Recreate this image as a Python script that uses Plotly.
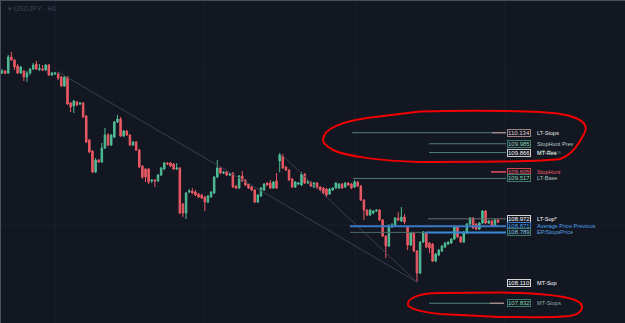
import plotly.graph_objects as go

# ---------------- data ----------------
opens = [110.940, 110.967, 110.940, 111.156, 111.115, 111.034, 110.940, 110.967, 110.886, 110.940,
         110.994, 111.061, 110.987, 110.994, 110.980, 111.048, 110.913, 110.926, 110.926, 110.886,
         110.764, 110.886, 110.535, 110.494, 110.548, 110.521, 110.535, 110.359, 110.035, 109.887,
         109.603, 109.765, 109.738, 109.927, 110.103, 109.968, 110.076, 110.278, 110.319, 110.089,
         110.157, 110.103, 109.968, 110.008, 109.900, 109.684, 109.644, 109.644, 109.482, 109.495,
         109.482, 109.563, 109.644, 109.725, 109.725, 109.711, 109.644, 109.657, 109.171, 109.050,
         109.333, 109.347, 109.333, 109.306, 109.293, 109.266, 109.198, 109.266, 109.320, 109.536,
         109.657, 109.590, 109.603, 109.563, 109.590, 109.414, 109.387, 109.549, 109.495, 109.441,
         109.401, 109.360, 109.198, 109.279, 109.360, 109.455, 109.455, 109.387, 109.482, 109.752,
         109.819, 109.671, 109.630, 109.509, 109.401, 109.441, 109.428, 109.576, 109.455, 109.468,
         109.401, 109.455, 109.401, 109.387, 109.374, 109.306, 109.360, 109.387, 109.387, 109.441,
         109.401, 109.455, 109.441, 109.401, 109.468, 109.414, 109.225, 109.090, 109.023, 109.050,
         109.077, 109.090, 108.955, 108.739, 108.604, 108.874, 108.874, 108.982, 108.942, 108.996,
         108.861, 108.618, 108.780, 108.537, 108.240, 108.658, 108.780, 108.645, 108.631, 108.402,
         108.483, 108.537, 108.591, 108.631, 108.645, 108.699, 108.861, 108.726, 108.658, 108.780,
         108.901, 108.982, 108.901, 108.834, 108.915, 109.077, 108.915, 108.942, 108.874, 108.955]
highs = [110.994, 110.980, 111.183, 111.223, 111.129, 111.061, 111.034, 110.980, 110.967, 111.007,
         111.075, 111.102, 111.061, 111.048, 111.061, 111.061, 110.953, 110.953, 110.953, 110.899,
         110.899, 110.899, 110.548, 110.575, 110.562, 110.548, 110.548, 110.373, 110.049, 109.900,
         109.792, 109.779, 109.995, 110.197, 110.130, 110.116, 110.292, 110.373, 110.346, 110.170,
         110.170, 110.116, 110.022, 110.022, 109.914, 109.698, 109.657, 109.657, 109.509, 109.509,
         109.576, 109.671, 109.738, 109.738, 109.738, 109.725, 109.725, 109.671, 109.185, 109.333,
         109.374, 109.387, 109.360, 109.320, 109.306, 109.279, 109.293, 109.347, 109.549, 109.765,
         109.671, 109.617, 109.617, 109.590, 109.603, 109.428, 109.563, 109.617, 109.509, 109.455,
         109.414, 109.374, 109.306, 109.401, 109.455, 109.468, 109.495, 109.482, 109.590, 109.860,
         109.846, 109.684, 109.644, 109.522, 109.482, 109.468, 109.603, 109.590, 109.495, 109.482,
         109.468, 109.468, 109.414, 109.401, 109.387, 109.387, 109.401, 109.468, 109.455, 109.455,
         109.468, 109.468, 109.455, 109.495, 109.482, 109.428, 109.239, 109.104, 109.104, 109.090,
         109.104, 109.104, 108.969, 108.753, 108.901, 108.915, 108.996, 109.063, 109.131, 109.036,
         108.874, 108.793, 108.793, 108.550, 108.672, 108.807, 108.793, 108.658, 108.645, 108.510,
         108.564, 108.618, 108.658, 108.672, 108.712, 108.874, 108.874, 108.739, 108.807, 108.915,
         108.996, 108.996, 108.915, 108.928, 109.090, 109.090, 108.955, 108.955, 108.969, 108.969]
lows = [110.926, 110.926, 110.926, 111.102, 110.980, 110.926, 110.926, 110.832, 110.818, 110.913,
        110.980, 110.980, 110.967, 110.967, 110.967, 110.899, 110.899, 110.913, 110.845, 110.751,
        110.751, 110.508, 110.413, 110.400, 110.494, 110.508, 110.332, 109.995, 109.860, 109.590,
        109.590, 109.725, 109.725, 109.914, 109.954, 109.954, 110.062, 110.265, 110.076, 110.076,
        110.089, 109.954, 109.954, 109.887, 109.657, 109.509, 109.468, 109.441, 109.455, 109.401,
        109.468, 109.549, 109.630, 109.698, 109.671, 109.630, 109.630, 109.036, 108.996, 108.969,
        109.320, 109.306, 109.279, 109.252, 109.239, 109.077, 109.185, 109.252, 109.306, 109.522,
        109.576, 109.576, 109.549, 109.549, 109.387, 109.374, 109.374, 109.468, 109.414, 109.374,
        109.347, 109.185, 109.185, 109.266, 109.347, 109.414, 109.374, 109.374, 109.374, 109.603,
        109.644, 109.617, 109.482, 109.387, 109.387, 109.428, 109.414, 109.441, 109.441, 109.401,
        109.387, 109.374, 109.347, 109.306, 109.266, 109.293, 109.347, 109.374, 109.374, 109.374,
        109.387, 109.414, 109.374, 109.387, 109.401, 109.212, 108.955, 109.009, 109.009, 109.036,
        109.063, 108.942, 108.726, 108.442, 108.591, 108.847, 108.861, 108.942, 108.928, 108.901,
        108.550, 108.604, 108.523, 108.118, 108.226, 108.645, 108.577, 108.510, 108.388, 108.388,
        108.469, 108.523, 108.577, 108.618, 108.631, 108.685, 108.712, 108.645, 108.645, 108.766,
        108.888, 108.834, 108.820, 108.820, 108.901, 108.901, 108.901, 108.861, 108.861, 108.915]
closes = [110.967, 110.933, 111.156, 111.115, 111.021, 110.940, 111.021, 110.886, 110.940, 110.994,
          111.048, 110.994, 111.000, 110.980, 111.048, 110.913, 110.940, 110.940, 110.872, 110.764,
          110.886, 110.521, 110.481, 110.562, 110.508, 110.535, 110.346, 110.008, 109.873, 109.603,
          109.765, 109.738, 109.927, 110.103, 109.968, 110.103, 110.278, 110.319, 110.089, 110.157,
          110.103, 109.968, 110.008, 109.900, 109.671, 109.536, 109.536, 109.468, 109.495, 109.482,
          109.563, 109.657, 109.725, 109.711, 109.684, 109.644, 109.657, 109.050, 109.050, 109.320,
          109.347, 109.320, 109.293, 109.266, 109.252, 109.198, 109.279, 109.333, 109.536, 109.657,
          109.590, 109.603, 109.563, 109.576, 109.401, 109.387, 109.549, 109.482, 109.428, 109.387,
          109.360, 109.198, 109.293, 109.387, 109.441, 109.428, 109.387, 109.468, 109.387, 109.833,
          109.657, 109.630, 109.495, 109.401, 109.468, 109.455, 109.576, 109.455, 109.468, 109.414,
          109.455, 109.387, 109.360, 109.320, 109.293, 109.374, 109.387, 109.455, 109.441, 109.387,
          109.455, 109.428, 109.387, 109.468, 109.414, 109.225, 109.090, 109.023, 109.090, 109.077,
          109.090, 108.955, 108.739, 108.604, 108.874, 108.888, 108.982, 108.955, 108.996, 108.928,
          108.618, 108.780, 108.537, 108.240, 108.658, 108.793, 108.591, 108.577, 108.402, 108.496,
          108.550, 108.604, 108.645, 108.658, 108.699, 108.861, 108.726, 108.658, 108.793, 108.901,
          108.982, 108.847, 108.834, 108.915, 109.077, 108.915, 108.942, 108.874, 108.955, 108.928]
bar_index = list(range(len(opens)))

level_values = [110.134, 109.985, 109.866, 109.605, 109.517, 108.972, 108.871, 108.789, 108.110, 107.832]
level_names = ["LT-Stops", "StopHunt Prev", "MT-Res", "StopHunt", "LT-Base", "LT-Sup*",
               "Average Price Previous", "EP/StopsPrice", "MT-Sup", "MT-Stops"]

# trendline anchors (bar index, price)
trend_a = [(18, 110.953), (133, 108.118)]
trend_b = [(89, 109.860), (133, 108.118)]

# ---------------- layout helpers ----------------
W, H = 625, 323
PX_PER_BAR = 3.12
X_LEFT = -2 / PX_PER_BAR
Y_TOP = 111.925
PX_PER_PRICE = 74.1
Y_BOTTOM = Y_TOP - H / PX_PER_PRICE


def xd(px):
    return X_LEFT + px / PX_PER_BAR


def pp(px, py):
    return f"{px / W:.5f},{1 - py / H:.5f}"


BG = "#131722"
TEAL = "#4e7f78"
UP = "#4fbc94"
DOWN = "#ea5a64"

fig = go.Figure()
fig.add_trace(go.Candlestick(
    x=bar_index, open=opens, high=highs, low=lows, close=closes,
    increasing=dict(line=dict(color=UP, width=1), fillcolor=UP),
    decreasing=dict(line=dict(color=DOWN, width=1), fillcolor=DOWN),
    whiskerwidth=0, hoverinfo="skip", showlegend=False,
))

shapes = []
# faint grid
for gx in [55, 205, 355, 505]:
    shapes.append(dict(type="line", xref="paper", yref="paper", x0=gx / W, x1=gx / W, y0=0, y1=1,
                       line=dict(color="#191e2b", width=1), layer="below"))
for gy in [72, 225]:
    shapes.append(dict(type="line", xref="paper", yref="paper", x0=0, x1=1, y0=1 - gy / H, y1=1 - gy / H,
                       line=dict(color="#191e2b", width=1), layer="below"))

# trend lines
for tl in (trend_a, trend_b):
    shapes.append(dict(type="line", xref="x", yref="y", x0=tl[0][0], y0=tl[0][1], x1=tl[1][0], y1=tl[1][1],
                       line=dict(color="#3a3f4c", width=1)))

# level line segments (pixel start/end, colour, width)
segments = [
    [(352, 492, TEAL, 1), (492, 506, "#a08a8a", 1.5)],
    [(429, 506, TEAL, 1)],
    [(429, 506, TEAL, 1)],
    [(491, 506, "#e0525a", 1.5)],
    [(353, 506, TEAL, 1)],
    [(428, 506, "#66706f", 1)],
    [(350, 506, "#3b78c4", 2)],
    [(350, 425, "#4c6d6a", 1), (425, 506, "#3a8ad6", 2)],
    [],
    [(429, 490, TEAL, 1), (490, 504, "#a08a8a", 1.5)],
]
for val, segs in zip(level_values, segments):
    for (a, b, col, w) in segs:
        shapes.append(dict(type="line", xref="x", yref="y", x0=xd(a), x1=xd(b), y0=val, y1=val,
                           line=dict(color=col, width=w)))

# red hand-drawn loops
loop1 = ("M " + pp(323, 140) + " C " + pp(323, 128) + " " + pp(345, 121) + " " + pp(367, 118) +
         " L " + pp(420, 111.5) + " C " + pp(480, 110) + " " + pp(540, 111) + " " + pp(560, 114) +
         " C " + pp(580, 117) + " " + pp(590, 124) + " " + pp(584, 134) +
         " C " + pp(578, 145) + " " + pp(572, 155) + " " + pp(560, 159) +
         " C " + pp(540, 162) + " " + pp(480, 162) + " " + pp(420, 162) +
         " C " + pp(380, 161) + " " + pp(345, 156) + " " + pp(333, 150) +
         " C " + pp(326, 146) + " " + pp(323, 143) + " " + pp(323, 140) + " Z")
loop2 = ("M " + pp(408, 303) + " C " + pp(410, 296) + " " + pp(425, 293) + " " + pp(440, 293) +
         " L " + pp(500, 292.5) + " C " + pp(540, 293) + " " + pp(565, 296) + " " + pp(575, 300) +
         " C " + pp(585, 304) + " " + pp(585, 313) + " " + pp(570, 316) +
         " C " + pp(550, 318) + " " + pp(520, 317) + " " + pp(500, 317) +
         " L " + pp(440, 314) + " C " + pp(420, 312) + " " + pp(406, 308) + " " + pp(408, 303) + " Z")
for p in (loop1, loop2):
    shapes.append(dict(type="path", xref="paper", yref="paper", path=p,
                       line=dict(color="#f00000", width=2)))

# frame edges
shapes.append(dict(type="line", xref="paper", yref="paper", x0=0, x1=1, y0=1, y1=1,
                   line=dict(color="#4a4e5a", width=2)))
shapes.append(dict(type="line", xref="paper", yref="paper", x0=0, x1=0, y0=0, y1=1,
                   line=dict(color="#4a4e5a", width=2)))

# label styles: (box border, value colour, name colour)
label_styles = [
    ("#a08585", "#e8d4d4", "#e4e4e4"),
    ("#3f7a6d", "#8fd6b4", "#b8cfc8"),
    ("#c8c8c8", "#f4f4f4", "#ffffff"),
    ("#d04a52", "#f06068", "#f06068"),
    ("#3f7a6d", "#8fd6b4", "#a8c4bc"),
    ("#d8d8d8", "#ffffff", "#ffffff"),
    ("#3a7cc8", "#4aa0ec", "#4aa0ec"),
    ("#3f7a6d", "#7fc8e0", "#5aa0e0"),
    ("#d8d8d8", "#ffffff", "#ffffff"),
    ("#3f7a6d", "#8fd6b4", "#8fa8a0"),
]
FONT = "Liberation Sans, Arial, sans-serif"
annotations = []
for val, name, (bc, vc, nc) in zip(level_values, level_names, label_styles):
    annotations.append(dict(xref="paper", yref="y", x=507 / W, y=val, xanchor="left", yanchor="middle",
                            text=f"{val:.3f}", showarrow=False, font=dict(family=FONT, size=6, color=vc),
                            bordercolor=bc, borderwidth=1, borderpad=0, bgcolor=BG))
    annotations.append(dict(xref="paper", yref="y", x=535 / W, y=val, xanchor="left", yanchor="middle",
                            text=name, showarrow=False, font=dict(family=FONT, size=5.6, color=nc)))
# overlapping ghost label (the reference shows two labels drawn on top of each other here)
annotations.append(dict(xref="paper", yref="y", x=535 / W, y=level_values[2] + 0.012, xanchor="left",
                        yanchor="middle", text="MT-Stops", showarrow=False,
                        font=dict(family=FONT, size=5.6, color="rgba(143,214,180,0.5)")))
annotations.append(dict(xref="paper", yref="paper", x=6 / W, y=1 - 3 / H, xanchor="left", yanchor="top",
                        text="▾ USDJPY · H1", showarrow=False,
                        font=dict(family=FONT, size=7, color="#3d4352")))

fig.update_layout(
    width=W, height=H, margin=dict(l=0, r=0, t=0, b=0),
    paper_bgcolor=BG, plot_bgcolor=BG, showlegend=False,
    xaxis=dict(visible=False, range=[X_LEFT, X_LEFT + W / PX_PER_BAR], rangeslider=dict(visible=False),
               fixedrange=True),
    yaxis=dict(visible=False, range=[Y_BOTTOM, Y_TOP], fixedrange=True),
    shapes=shapes, annotations=annotations,
)
fig.write_html("out.html")
